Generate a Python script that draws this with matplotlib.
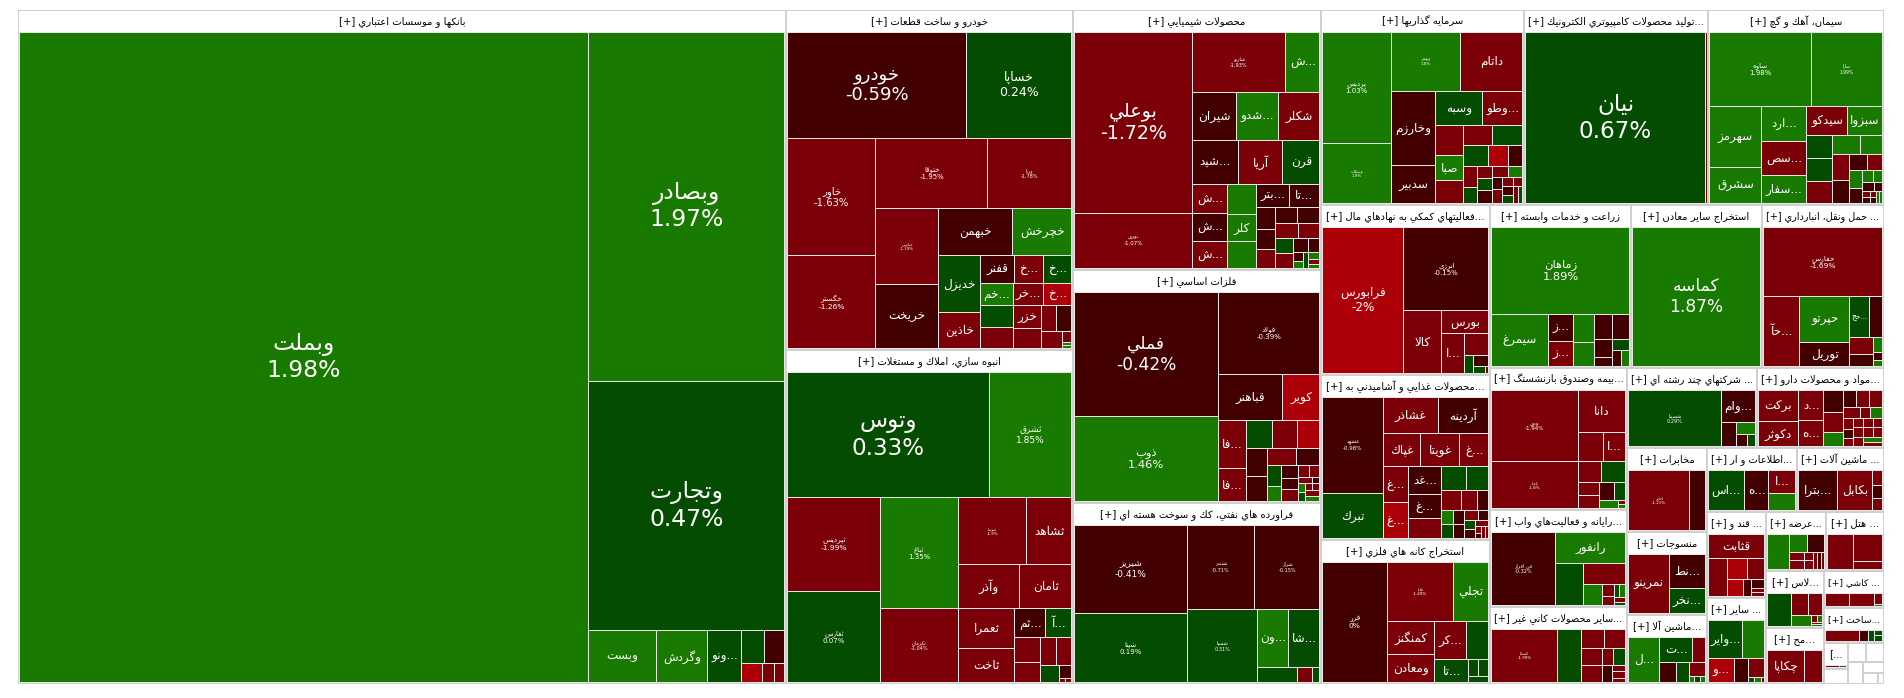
import matplotlib
matplotlib.use("Agg")
import matplotlib.pyplot as plt
from matplotlib.patches import Rectangle

# ---------- market data: one group of arrays per industry ----------
banks_title = 'بانكها و موسسات اعتباري [+]'
banks_cap = 517632
banks_symbols = ['وبملت', 'وبصادر', 'وتجارت', 'وبست', 'وگردش', '...ونو', '', '', '', '', '']
banks_caps = [371000, 68600, 49000, 3536, 2652, 1768, 759, 660, 399, 228, 190]
banks_changes = [1.98, 1.97, 0.47, 1.55, 1.60, 0.45, 0.30, -0.40, -2.05, -1.40, -1.20]
banks_strips = [1, 1, 1, 1, 1, 1, 2, 1, 1, 1]

auto_title = 'خودرو و ساخت قطعات [+]'
auto_cap = 97580
auto_symbols = ['خودرو', 'خساپا', 'خاور', 'خگستر', 'ختوقا', 'ورنا', 'خپارس', 'خريخت', 'خبهمن', 'خچرخش',
                'خديزل', 'خاذين', 'قفنر', '...خ', '...خ', '...خم', '', '', '...خر', '...خ',
                'خزر', '', '', '', '', '', '', '']
auto_caps = [18868, 11130, 10384, 8184, 7805, 5880, 4712, 3968, 3525, 2773,
             2394, 1512, 918, 783, 783, 726, 700, 690, 660, 638,
             644, 560, 390, 390, 357, 99, 27, 27]
auto_changes = [-0.59, 0.24, -1.63, -1.26, -1.95, -1.78, -1.19, -0.75, -0.60, 1.30,
                0.55, -1.20, -0.80, -1.50, 0.40, 1.20, 0.50, -1.10, -1.30, -2.20,
                -1.40, -1.10, -1.50, -0.70, -1.20, -1.10, 1.10, 1.20]
auto_strips = [2, 2, 2, 2, 2, 2, 3, 3, 2, 2, 2, 1, 1, 2]

build_title = 'انبوه سازي، املاك و مستغلات [+]'
build_cap = 95858
build_symbols = ['وتوس', 'ثشرق', 'ثپرديس', 'ثفارس', 'ثباغ', 'ثكرمان', 'ثنوسا', 'ثشاهد', 'وآذر', 'ثامان',
                 'ثعمرا', 'ثاخت', '...ثم', '...آ', '', '', '', '', '', '', '', '']
build_caps = [25250, 10250, 8648, 8464, 8490, 5737, 4556, 3015, 2666, 2236,
              2240, 1960, 899, 754, 625, 500, 459, 405, 340, 156, 24, 24]
build_changes = [0.33, 1.85, -1.99, 0.07, 1.35, -1.04, -1.90, -1.25, -1.30, -1.15,
                 -1.20, -1.10, -0.70, 0.45, -1.30, -1.20, -1.40, -1.10, 0.35, -0.60, -1.10, -1.30]
build_strips = [2, 2, 2, 2, 2, 2, 2, 2, 2, 1, 1, 1, 1]

chem_title = 'محصولات شيميايي [+]'
chem_cap = 64480
chem_symbols = ['بوعلي', 'نوري', 'شاريو', '...ش', 'شيران', '...شدو', 'شكلر', '...شيد', 'آريا', 'قرن',
                '...ش', '...ش', '...ش', '', 'كلر', '', '...بتر', '...تا', '', '', '', '', '', '', '',
                '', '', '', '', '', '', '', '', '', '']
chem_caps = [21200, 6524, 5580, 2040, 2112, 2064, 1968, 1978, 1935, 1591,
             1020, 952, 952, 870, 783, 783, 726, 682, 418, 380, 361, 352, 352, 345, 315,
             288, 270, 210, 165, 80, 70, 80, 77, 54, 45]
chem_changes = [-1.72, -1.07, -1.93, 1.40, -0.60, 1.25, -1.30, -0.55, -1.45, 0.30,
                -1.20, -0.65, -1.35, 1.30, 1.50, 1.10, -0.45, -0.50, -0.40, -0.55, -1.20, -0.60, -0.35, -1.30, -1.10,
                0.50, -1.25, -0.40, -0.30, -0.50, 1.20, 0.40, 1.10, -1.30, 1.15]
chem_strips = [2, 2, 3, 3, 3, 3, 2, 3, 2, 2, 2, 2, 2, 1, 1, 2]

metals_title = 'فلزات اساسي [+]'
metals_cap = 57784
metals_symbols = ['فملي', 'ذوب', 'فولاد', 'قباهنر', 'كوير', '...فا', '...فا'] + [''] * 22
metals_caps = [17875, 12155, 8262, 2990, 1702, 1344, 924, 728, 700, 616,
               588, 546, 476, 391, 294, 210, 208, 192, 192, 132,
               120, 91, 49, 63, 63, 49, 49, 77, 77]
metals_changes = [-0.42, 1.46, -0.39, -0.70, -2.15, -1.30, -1.25, 0.45, -1.20, -2.10,
                  -0.60, -0.80, -1.35, -0.50, 0.35, 1.20, -0.40, -0.55, -1.30, -1.40,
                  -1.10, -1.05, -0.45, 1.15, 0.55, -1.20, -1.30, -1.10, 1.05]
metals_strips = [2, 1, 2, 2, 3, 2, 2, 2, 3, 2, 2, 2, 2, 2]

oil_title = 'فراورده هاي نفتي، كك و سوخت هسته اي [+]'
oil_cap = 44888
oil_symbols = ['شبريز', 'شپنا', 'شبندر', 'شراز', 'شسپا', '...ون', '...شا', '', '', '']
oil_caps = [10057, 7910, 5695, 5525, 5180, 1829, 1829, 600, 225, 105]
oil_changes = [-0.41, 0.19, -0.71, -0.15, 0.31, 1.30, 0.60, 0.40, -1.20, 0.35]
oil_strips = [2, 2, 1, 2, 1, 1, 1]

invest_title = 'سرمايه گذاريها [+]'
invest_cap = 39585
invest_symbols = ['پرديس', 'وسكاب', 'وبهمن', 'داتام', 'وخارزم', 'سدبير', 'وسبه', '...وطو', '', 'صبا'] + [''] * 21
invest_caps = [7616, 4148, 4060, 3654, 3225, 1677, 1584, 1353, 840, 728, 644, 580, 600,
               504, 399, 294, 286, 221, 180, 195, 195, 165, 154, 117, 126, 108, 81, 108, 96, 81, 72]
invest_changes = [1.03, 1.90, 1.80, -1.40, -0.70, -0.55, 0.45, -1.25, -1.30, 1.20, -1.35, -1.20, 0.35,
                  0.40, -2.10, -0.60, -1.30, 0.50, -1.20, 0.45, -0.65, -1.10, 1.15, -0.50, -1.20, -1.30, -1.15,
                  -0.40, 0.30, -1.10, 0.40]
invest_strips = [2, 2, 2, 2, 3, 2, 3, 2, 3, 2, 2, 2, 2, 2]

comp_title = '...توليد محصولات كامپيوتري الكترونيك [+]'
comp_cap = 35880
comp_symbols = ['نيان', '']
comp_caps = [31313, 173]
comp_changes = [0.67, -1.20]
comp_strips = [1, 1]

cement_title = 'سيمان، آهك و گچ [+]'
cement_cap = 34320
cement_symbols = ['ساوه', 'ساپا', 'سهرمز', 'سشرق', '...ارد', '...سص', '...سفار', 'سيدكو', 'سبزوا'] + [''] * 21
cement_caps = [7373, 5183, 3162, 1836, 1540, 1540, 1232, 1148, 1008, 575, 575, 550,
               532, 418, 416, 384, 288, 240, 221, 195, 132, 108, 117, 72, 48, 48, 36, 36, 36, 36]
cement_changes = [1.98, 1.99, 1.60, 1.45, 1.30, -1.40, 1.20, -1.30, 1.35, 0.40, 0.50, -1.30,
                  1.10, 1.25, -1.20, -0.60, -0.55, -1.35, 1.15, -0.50, 1.20, 1.05, -0.70, -0.45,
                  -1.30, -0.60, -1.20, -0.50, 1.10, 1.20]
cement_strips = [2, 2, 3, 2, 3, 2, 2, 2, 2, 2, 2, 2, 2, 2]

aux_title = '...فعاليتهاي كمكي به نهادهاي مال [+]'
aux_cap = 28730
aux_symbols = ['فرابورس', 'انرژي', 'كالا', 'بورس', '...ا', '', '', '', '', '']
aux_caps = [11760, 6970, 2331, 1056, 880, 525, 171, 154, 88, 24]
aux_changes = [-2, -0.15, -1.20, -1.30, -1.25, -1.10, 0.40, -0.60, 0.30, -1.10]
aux_strips = [1] * 10

food_title = '...محصولات غذايي و آشاميدني به [+]'
food_cap = 27885
food_symbols = ['غشهد', 'تبرك', 'غشاذر', 'آردينه', 'غپاك', 'غويتا', '...غ', '...غ', '...غ', '...غد', '...غ'] + [''] * 19
food_caps = [5664, 2655, 1925, 1785, 1184, 1248, 928, 864, 864, 868, 744, 651,
             575, 506, 380, 304, 209, 168, 168, 154, 154, 143, 110, 90, 90, 78, 42, 36, 42, 36]
food_changes = [-0.98, 0.55, -1.30, -0.60, -1.25, -1.20, -1.40, -1.35, -2.30, -0.70, -0.75, -1.30,
                0.40, 0.45, -1.25, -1.20, -0.50, 1.20, 0.35, -0.60, -0.55, -1.30, -0.40, 0.30, -0.50,
                -1.10, -1.20, -0.40, -1.15, -1.05]
food_strips = [2, 2, 3, 2, 3, 2, 3, 2, 2, 2, 2, 1, 2, 2]

ore_title = 'استخراج كانه هاي فلزي [+]'
ore_cap = 24336
ore_symbols = ['فزر', 'فلپا', 'تجلي', 'كمنگنز', 'ومعادن', '...كر', '', '...تا', '', '', '']
ore_caps = [7560, 3828, 2030, 1504, 1316, 1147, 814, 759, 170, 170, 120]
ore_changes = [0, -1.49, 1.40, -1.25, -1.15, -1.10, 0.45, 0.50, 0.35, 0.40, 0.30]
ore_strips = [1, 2, 2, 2, 1, 2, 1]

agri_title = 'زراعت و خدمات وابسته [+]'
agri_cap = 22983
agri_symbols = ['زماهان', 'سيمرغ', '...ز', '...ز', '', '', '', '', '', '', '', '', '']
agri_caps = [11730, 2915, 648, 624, 560, 480, 432, 432, 324, 162, 170, 136, 136]
agri_changes = [1.89, 1.30, -0.60, -1.20, 1.15, 1.25, -0.55, -0.65, -0.40, -0.50, 0.45, -0.60, 1.10]
agri_strips = [1, 1, 2, 2, 2, 2, 1, 2]

mining_title = 'استخراج ساير معادن [+]'
mining_cap = 21353
mining_symbols = ['كماسه']
mining_caps = [17500]
mining_changes = [1.87]
mining_strips = [1]

transport_title = '... حمل ونقل، انبارداري [+]'
transport_cap = 19886
transport_symbols = ['حفارس', '...حآ', 'حپرتو', 'توريل', '...حج', '', '', '', '', '', '']
transport_caps = [8092, 2520, 2254, 1176, 792, 528, 391, 276, 135, 72, 54]
transport_changes = [-1.69, -1.40, 1.35, -0.65, 0.35, -0.55, -1.25, -0.60, 1.10, -0.50, 1.05]
transport_strips = [1, 1, 2, 2, 2, 1, 1, 1]

insurance_title = '...بيمه وصندوق بازنشستگ [+]'
insurance_cap = 19454
insurance_symbols = ['ودي', 'باميا', 'دانا', '', '...ا', '', '', '', '', '', '', '', '', '']
insurance_caps = [6192, 4042, 1974, 725, 638, 483, 504, 273, 294, 266, 209, 144, 28, 28]
insurance_changes = [-1.94, -1.80, -1.25, -1.30, -1.20, -1.15, 0.40, -1.10, -1.20, -0.60, 0.35, 1.20, -1.10, 1.10]
insurance_strips = [2, 1, 2, 2, 2, 2, 1, 1, 1]

software_title = '...رايانه و فعاليت\u200cهاي واب [+]'
software_cap = 13289
software_symbols = ['فن افزار', 'رانفور', '', '', '', '', '', '', '', '', '']
software_caps = [4662, 2170, 1134, 882, 396, 132, 110, 66, 77, 55, 33]
software_changes = [-0.32, 1.40, 0.40, -1.25, 1.30, -1.20, -1.15, 0.35, 1.05, -1.10, 0.40]
software_strips = [1, 1, 1, 1, 1, 2, 2, 2]

nonmetal_title = '...ساير محصولات كاني غير [+]'
nonmetal_cap = 10549
nonmetal_symbols = ['كساپا'] + [''] * 11
nonmetal_caps = [3510, 1296, 437, 418, 340, 340, 192, 192, 180, 84, 90, 50]
nonmetal_changes = [-1.99, 0.45, -1.25, -1.20, -1.30, -1.15, -1.10, 0.40, -0.60, -1.20, -1.30, -1.05]
nonmetal_strips = [1, 1, 2, 2, 2, 1, 1, 2]

multi_title = '... شركتهاي چند رشته اي [+]'
multi_cap = 10400
multi_symbols = ['شسينا', '...وام', '', '', '', '']
multi_caps = [5244, 1120, 360, 220, 132, 96]
multi_changes = [0.29, -0.60, -0.55, 1.20, -0.50, 0.40]
multi_strips = [1] * 6

pharma_title = '...مواد و محصولات دارو [+]'
pharma_cap = 10160
pharma_symbols = ['بركت', 'دكوثر', '...د', '...ه'] + [''] * 21
pharma_caps = [1248, 975, 775, 650, 437, 380, 266, 221, 238, 221, 176, 110, 132, 110, 90, 80, 90, 90, 90, 90, 81, 95, 85, 95, 85]
pharma_changes = [-1.40, -1.25, -1.30, -1.15, -0.70, -1.20, 1.10, -0.60, -1.30, -1.15, -1.25, -1.10, 1.05,
                  -1.20, -0.55, -1.30, -1.25, -1.15, -1.10, -1.20, -1.05, -1.15, -1.25, 1.10, -1.30]
pharma_strips = [2, 2, 3, 3, 3, 3, 3, 2, 2, 2]

telecom_title = 'مخابرات [+]'
telecom_cap = 6720
telecom_symbols = ['اخابر', '']
telecom_caps = [3721, 976]
telecom_changes = [-1.21, -0.60]
telecom_strips = [1, 1]

textile_title = 'منسوجات [+]'
textile_cap = 6640
textile_symbols = ['نمرينو', '...نط', '...نخر']
textile_caps = [2440, 1260, 936]
textile_changes = [-1.25, -0.50, 0.40]
textile_strips = [1, 1, 1]

tools_title = '...ماشين آلا [+]'
tools_cap = 5520
tools_symbols = ['...ل', '...ت', '', '', '', '', '', '', '']
tools_caps = [1457, 832, 338, 336, 273, 238, 34, 34, 34]
tools_changes = [1.30, 0.45, -1.20, -0.60, 0.40, -1.15, 1.10, 0.30, 1.05]
tools_strips = [1, 2, 1, 1, 1, 1, 1, 1]

info_title = '...اطلاعات و ار [+]'
info_cap = 5760
info_symbols = ['...اس', '...ه', '...ا', '']
info_caps = [1476, 1025, 648, 459]
info_changes = [0.50, -0.55, -1.30, 1.25]
info_strips = [1, 1, 1, 1]

machine_title = '... ماشين آلات [+]'
machine_cap = 5568
machine_symbols = ['...بترا', 'بكابل', '', '', '']
machine_caps = [1599, 1435, 160, 130, 120]
machine_changes = [-0.65, -1.30, -1.20, -0.50, -1.10]
machine_strips = [1] * 5

sugar_title = '... قند و [+]'
sugar_cap = 5074
sugar_symbols = ['قثابت'] + [''] * 8
sugar_caps = [1368, 722, 399, 357, 255, 136, 112, 56, 56]
sugar_changes = [-1.25, -1.30, -2.10, -1.20, -2.05, -0.55, -0.60, -1.10, -1.15]
sugar_strips = [1, 1, 2, 1, 1, 1, 2]

other_title = '... ساير [+]'
other_cap = 5074
other_symbols = ['...واير', '', '...و', '', '', '', '', '']
other_caps = [1330, 836, 650, 350, 323, 34, 34, 17]
other_changes = [0.40, 1.30, -2.15, -0.55, -1.20, 0.35, 1.10, -1.10]
other_strips = [2, 1, 1, 1, 1, 1, 1]

offer_title = '...عرضه [+]'
offer_cap = 3540
offer_symbols = [''] * 10
offer_caps = [814, 342, 323, 135, 135, 90, 90, 66, 66, 66]
offer_changes = [1.25, 1.30, -0.60, -1.20, -1.15, -1.25, -1.10, -1.20, -0.50, -1.05]
offer_strips = [1, 2, 2, 2, 3]

hotel_title = '... هتل [+]'
hotel_cap = 3422
hotel_symbols = ['', '', '']
hotel_caps = [962, 812, 261]
hotel_changes = [-1.25, -1.20, -1.15]
hotel_strips = [1, 1, 1]

glass_title = '...لاس [+]'
glass_cap = 3306
glass_symbols = [''] * 8
glass_caps = [782, 352, 308, 220, 40, 40, 20, 20]
glass_changes = [0.40, -1.25, -1.20, 1.30, -1.15, 1.10, -1.05, 1.05]
glass_strips = [1, 2, 1, 2, 2]

mah_title = '...مح [+]'
mah_cap = 3248
mah_symbols = ['چكاپا', '']
mah_caps = [1188, 561]
mah_changes = [-1.30, -1.20]
mah_strips = [1, 1]

tile_title = '... كاشي [+]'
tile_cap = 2220
tile_symbols = ['', '', '', '']
tile_caps = [336, 336, 96, 16]
tile_changes = [-1.25, -1.20, -1.30, 1.05]
tile_strips = [1, 1, 1, 1]

works_title = '...ساخت [+]'
works_cap = 2100
works_symbols = [''] * 5
works_caps = [363, 99, 66, 44, 44]
works_changes = [-1.25, -0.60, 0.40, 0.45, 0.35]
works_strips = [1, 1, 1, 1, 1]

minor_title = '...]'
minor_cap = 624
minor_symbols = ['', '']
minor_caps = [120, 60]
minor_changes = [-1.25, 1.10]
minor_strips = [1, 1]

# industries too small to show anything but an empty frame
tiny_caps = [360, 342, 342, 330, 231, 165, 66]

sectors = [
    (banks_title, banks_cap, banks_symbols, banks_caps, banks_changes, banks_strips),
    (auto_title, auto_cap, auto_symbols, auto_caps, auto_changes, auto_strips),
    (build_title, build_cap, build_symbols, build_caps, build_changes, build_strips),
    (chem_title, chem_cap, chem_symbols, chem_caps, chem_changes, chem_strips),
    (metals_title, metals_cap, metals_symbols, metals_caps, metals_changes, metals_strips),
    (oil_title, oil_cap, oil_symbols, oil_caps, oil_changes, oil_strips),
    (invest_title, invest_cap, invest_symbols, invest_caps, invest_changes, invest_strips),
    (comp_title, comp_cap, comp_symbols, comp_caps, comp_changes, comp_strips),
    (cement_title, cement_cap, cement_symbols, cement_caps, cement_changes, cement_strips),
    (aux_title, aux_cap, aux_symbols, aux_caps, aux_changes, aux_strips),
    (food_title, food_cap, food_symbols, food_caps, food_changes, food_strips),
    (ore_title, ore_cap, ore_symbols, ore_caps, ore_changes, ore_strips),
    (agri_title, agri_cap, agri_symbols, agri_caps, agri_changes, agri_strips),
    (mining_title, mining_cap, mining_symbols, mining_caps, mining_changes, mining_strips),
    (transport_title, transport_cap, transport_symbols, transport_caps, transport_changes, transport_strips),
    (insurance_title, insurance_cap, insurance_symbols, insurance_caps, insurance_changes, insurance_strips),
    (software_title, software_cap, software_symbols, software_caps, software_changes, software_strips),
    (nonmetal_title, nonmetal_cap, nonmetal_symbols, nonmetal_caps, nonmetal_changes, nonmetal_strips),
    (multi_title, multi_cap, multi_symbols, multi_caps, multi_changes, multi_strips),
    (pharma_title, pharma_cap, pharma_symbols, pharma_caps, pharma_changes, pharma_strips),
    (telecom_title, telecom_cap, telecom_symbols, telecom_caps, telecom_changes, telecom_strips),
    (textile_title, textile_cap, textile_symbols, textile_caps, textile_changes, textile_strips),
    (tools_title, tools_cap, tools_symbols, tools_caps, tools_changes, tools_strips),
    (info_title, info_cap, info_symbols, info_caps, info_changes, info_strips),
    (machine_title, machine_cap, machine_symbols, machine_caps, machine_changes, machine_strips),
    (sugar_title, sugar_cap, sugar_symbols, sugar_caps, sugar_changes, sugar_strips),
    (other_title, other_cap, other_symbols, other_caps, other_changes, other_strips),
    (offer_title, offer_cap, offer_symbols, offer_caps, offer_changes, offer_strips),
    (hotel_title, hotel_cap, hotel_symbols, hotel_caps, hotel_changes, hotel_strips),
    (glass_title, glass_cap, glass_symbols, glass_caps, glass_changes, glass_strips),
    (mah_title, mah_cap, mah_symbols, mah_caps, mah_changes, mah_strips),
    (tile_title, tile_cap, tile_symbols, tile_caps, tile_changes, tile_strips),
    (works_title, works_cap, works_symbols, works_caps, works_changes, works_strips),
    (minor_title, minor_cap, minor_symbols, minor_caps, minor_changes, minor_strips),
] + [('', c, [], [], [], []) for c in tiny_caps]

sector_strips = [1, 2, 3, 3, 3, 3, 3, 2, 3, 2, 2, 2, 2, 1, 1, 2, 2, 1, 1, 1, 1]

# ---------- styling ----------
# font size in pixels for tiles that print symbol and change
FULL_LABEL_PX = {
    'وبملت': 23.5, 'وبصادر': 23.5, 'وتجارت': 23.5, 'خودرو': 18, 'خساپا': 12.5, 'خاور': 10, 'خگستر': 7.5,
    'ختوقا': 7, 'ورنا': 5, 'خپارس': 4, 'وتوس': 23, 'ثشرق': 9, 'ثپرديس': 7.5, 'ثباغ': 7, 'ثفارس': 7,
    'ثنوسا': 4, 'ثكرمان': 5, 'بوعلي': 19, 'نوري': 5.5, 'شاريو': 5, 'فملي': 17, 'فولاد': 7, 'ذوب': 11.5,
    'شبريز': 9, 'شبندر': 5, 'شراز': 5, 'شپنا': 7, 'شسپا': 5, 'پرديس': 7, 'وسكاب': 4, 'وبهمن': 4,
    'نيان': 23, 'ساوه': 7, 'ساپا': 4.5, 'فرابورس': 12, 'انرژي': 7, 'زماهان': 11.5, 'كماسه': 17,
    'حفارس': 7.5, 'ودي': 5.5, 'باميا': 4, 'غشهد': 5.5, 'فزر': 7.5, 'فلپا': 4, 'فن افزار': 5,
    'شسينا': 5, 'كساپا': 4, 'اخابر': 4,
}
NAME_ONLY_PX = 12
TITLE_PX = 10
TEXT_COLOR = '#ffffff'
FRAME_COLOR = '#d0d0d0'
GAP_COLOR = '#e6e6e6'
BIN_COLORS = {'deep_loss': '#ad0009', 'loss': '#7c0007', 'slight_loss': '#420000',
              'slight_gain': '#044c00', 'gain': '#197a00'}


def tile_color(change):
    if change <= -2:
        return BIN_COLORS['deep_loss']
    if change <= -1:
        return BIN_COLORS['loss']
    if change <= 0:
        return BIN_COLORS['slight_loss']
    if change < 1:
        return BIN_COLORS['slight_gain']
    return BIN_COLORS['gain']


# ---------- Arabic shaping: the text engine draws code points as given ----------
FORMS = {
    'ا': '\uFE8D\uFE8E', 'آ': '\uFE81\uFE82', 'أ': '\uFE83\uFE84', 'د': '\uFEA9\uFEAA', 'ذ': '\uFEAB\uFEAC',
    'ر': '\uFEAD\uFEAE', 'ز': '\uFEAF\uFEB0', 'ژ': '\uFB8A\uFB8B', 'و': '\uFEED\uFEEE',
    'ب': '\uFE8F\uFE90\uFE91\uFE92', 'پ': '\uFB56\uFB57\uFB58\uFB59', 'ت': '\uFE95\uFE96\uFE97\uFE98',
    'ث': '\uFE99\uFE9A\uFE9B\uFE9C', 'ج': '\uFE9D\uFE9E\uFE9F\uFEA0', 'چ': '\uFB7A\uFB7B\uFB7C\uFB7D',
    'ح': '\uFEA1\uFEA2\uFEA3\uFEA4', 'خ': '\uFEA5\uFEA6\uFEA7\uFEA8', 'س': '\uFEB1\uFEB2\uFEB3\uFEB4',
    'ش': '\uFEB5\uFEB6\uFEB7\uFEB8', 'ص': '\uFEB9\uFEBA\uFEBB\uFEBC', 'ض': '\uFEBD\uFEBE\uFEBF\uFEC0',
    'ط': '\uFEC1\uFEC2\uFEC3\uFEC4', 'ظ': '\uFEC5\uFEC6\uFEC7\uFEC8', 'ع': '\uFEC9\uFECA\uFECB\uFECC',
    'غ': '\uFECD\uFECE\uFECF\uFED0', 'ف': '\uFED1\uFED2\uFED3\uFED4', 'ق': '\uFED5\uFED6\uFED7\uFED8',
    'ك': '\uFED9\uFEDA\uFEDB\uFEDC', 'گ': '\uFB92\uFB93\uFB94\uFB95', 'ل': '\uFEDD\uFEDE\uFEDF\uFEE0',
    'م': '\uFEE1\uFEE2\uFEE3\uFEE4', 'ن': '\uFEE5\uFEE6\uFEE7\uFEE8', 'ه': '\uFEE9\uFEEA\uFEEB\uFEEC',
    'ي': '\uFEF1\uFEF2\uFEF3\uFEF4',
}
LAM_ALEF = {'ا': '\uFEFB\uFEFC', 'آ': '\uFEF5\uFEF6', 'أ': '\uFEF7\uFEF8'}
MIRROR = str.maketrans('[]', '][')


def shape(text):
    """Return text in visual order with contextual Arabic letter forms."""
    out, prev_joins, i = [], False, 0
    while i < len(text):
        ch = text[i]
        nxt = text[i + 1] if i + 1 < len(text) else ''
        if ch == '\u200c':
            prev_joins = False
            i += 1
            continue
        if ch == 'ل' and nxt and nxt in LAM_ALEF:
            out.append(LAM_ALEF[nxt][1 if prev_joins else 0])
            prev_joins = False
            i += 2
            continue
        forms = FORMS.get(ch)
        if forms is None:
            out.append(ch)
            prev_joins = False
            i += 1
            continue
        dual = len(forms) == 4
        next_joins = dual and nxt in FORMS
        if prev_joins and next_joins:
            out.append(forms[3])
        elif prev_joins:
            out.append(forms[1])
        elif next_joins:
            out.append(forms[2])
        else:
            out.append(forms[0])
        prev_joins = dual
        i += 1
    return ''.join(reversed(out)).translate(MIRROR)


# ---------- squarified strips: each strip hugs the shorter side of what is left ----------
def lay_out(values, strips, x, y, w, h):
    assert sum(strips) == len(values), (sum(strips), len(values))
    scale = w * h / sum(values)
    rects, pos = [], 0
    for count in strips:
        group = values[pos:pos + count]
        pos += count
        area = sum(group) * scale
        if w > h * 1.015:
            thick = area / h
            cy = y
            for v in group:
                seg = v * scale / thick
                rects.append((x, cy, thick, seg))
                cy += seg
            x += thick
            w -= thick
        else:
            thick = area / w
            cx = x
            for v in group:
                seg = v * scale / thick
                rects.append((cx, y, seg, thick))
                cx += seg
            y += thick
            h -= thick
    return rects


def px(size):
    return size * 72 / 100


plt.rcParams['font.family'] = ['DejaVu Sans']
fig = plt.figure(figsize=(19.04, 6.98), dpi=100, facecolor='white')
ax = fig.add_axes([0, 0, 1, 1])
ax.set_xlim(0, 1904)
ax.set_ylim(698, 0)
ax.axis('off')
renderer = fig.canvas.get_renderer()


def fit_width(text_artist, limit):
    """Shrink a label that would run past the box it belongs to."""
    width = text_artist.get_window_extent(renderer).width
    if width > limit > 0:
        text_artist.set_fontsize(text_artist.get_fontsize() * limit / width)


sector_rects = lay_out([s[1] for s in sectors], sector_strips, 18, 10, 1866, 674)

for (title, _, symbols, caps, changes, strips), (sx, sy, sw, sh) in zip(sectors, sector_rects):
    assert len(symbols) == len(caps) == len(changes), title
    ax.add_patch(Rectangle((sx, sy), sw, sh, facecolor=FRAME_COLOR, linewidth=0))
    head = min(21, sh - 2)
    ax.add_patch(Rectangle((sx + 1.25, sy + 1.25), sw - 2.5, head - 0.75, facecolor='white', linewidth=0))
    if title:
        head_text = ax.text(sx + sw / 2, sy + 1 + head / 2, shape(title), fontsize=px(TITLE_PX),
                            color='black', ha='center', va='center')
        fit_width(head_text, sw - 8)
    ix, iy = sx + 1.25, sy + head + 1
    iw, ih = sw - 2.5, sh - head - 2.25
    if not caps or ih <= 0:
        continue
    ax.add_patch(Rectangle((ix, iy), iw, ih, facecolor=GAP_COLOR, linewidth=0))
    for sym, chg, (cx, cy, cw, ch) in zip(symbols, changes, lay_out(caps, strips, ix, iy, iw, ih)):
        tile = Rectangle((cx + 0.5, cy + 0.5), max(cw - 1, 0.3), max(ch - 1, 0.3),
                         facecolor=tile_color(chg), linewidth=0)
        ax.add_patch(tile)
        if not sym:
            continue
        if sym in FULL_LABEL_PX:
            label, size = shape(sym) + '\n' + f'{chg:g}%', FULL_LABEL_PX[sym]
        else:
            label, size = shape(sym), NAME_ONLY_PX
        t = ax.text(cx + cw / 2, cy + ch / 2, label, fontsize=px(size), color=TEXT_COLOR,
                    ha='center', va='center', linespacing=1.2, multialignment='center')
        fit_width(t, cw - 3)
        t.set_clip_path(tile)

fig.savefig('out.png', dpi=100, facecolor='white')
